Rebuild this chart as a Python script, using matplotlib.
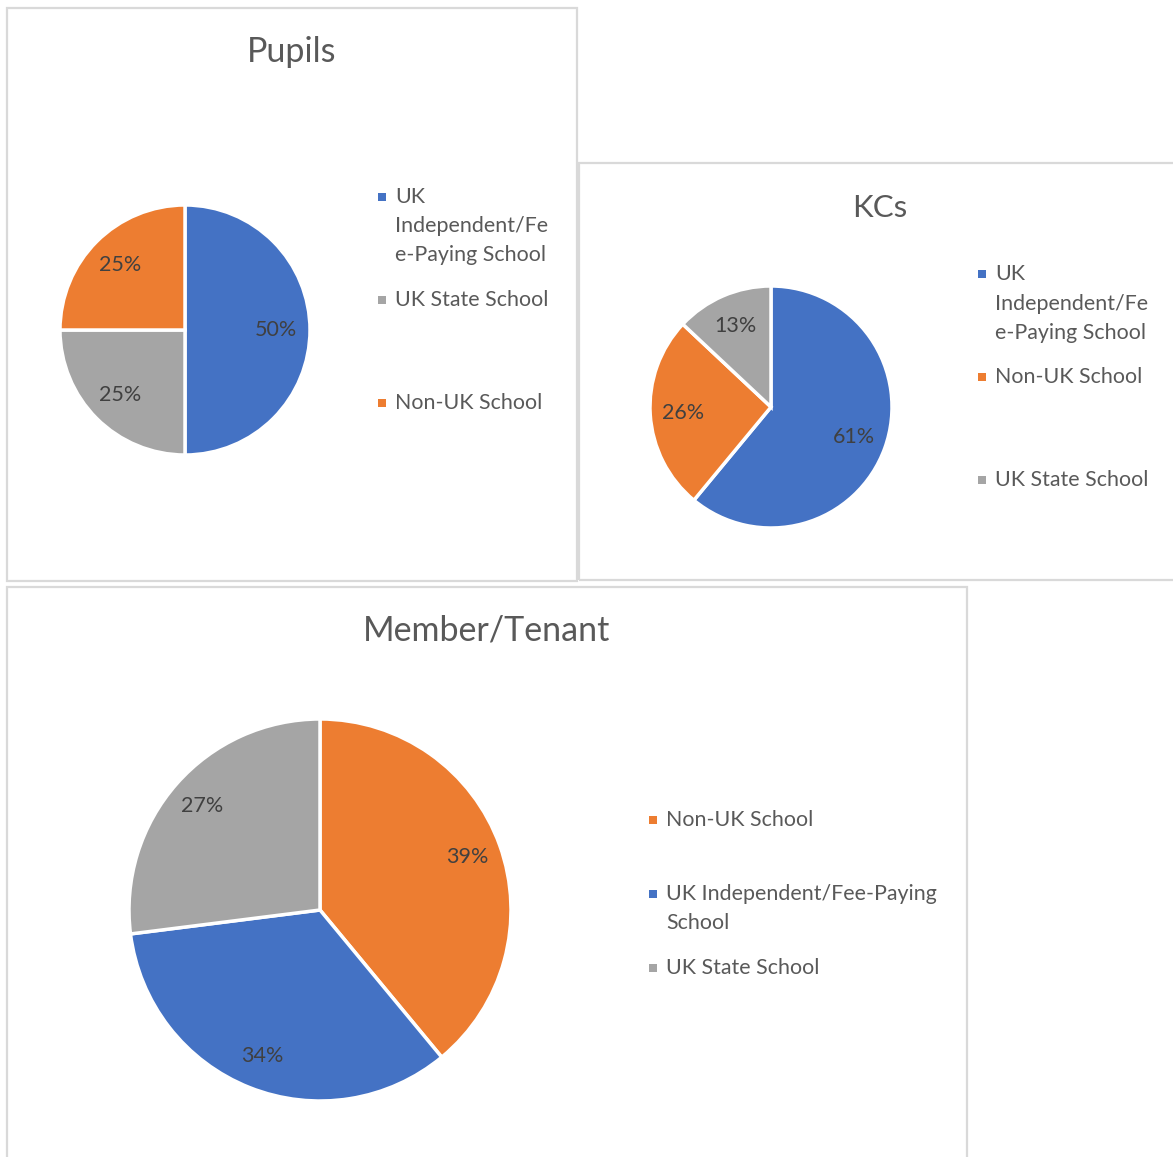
import matplotlib.pyplot as plt
from matplotlib.patches import Rectangle

# categories and colours (Excel office palette)
independent = "UK Independent/Fee-Paying School"
state = "UK State School"
non_uk = "Non-UK School"
colours = {independent: "#4472C4", state: "#A5A5A5", non_uk: "#ED7D31"}

# chart data (percent)
pupils_cats = [independent, state, non_uk]
pupils_vals = [50, 25, 25]

kcs_cats = [independent, non_uk, state]
kcs_vals = [61, 26, 13]

member_cats = [non_uk, independent, state]
member_vals = [39, 34, 27]

# how each legend wraps the long label
pupils_wrap = {independent: ["UK", "Independent/Fe", "e-Paying School"]}
kcs_wrap = {independent: ["UK", "Independent/Fe", "e-Paying School"]}
member_wrap = {independent: ["UK Independent/Fee-Paying", "School"]}

W, H = 1173, 1157
plt.rcParams["font.family"] = ["Lato", "DejaVu Sans"]
txt = "#595959"

fig = plt.figure(figsize=(W / 100, H / 100), dpi=100)


def fx(x):
    return x / W


def fy(y):
    return 1 - y / H


def panel(x0, y0, x1, y1):
    fig.add_artist(Rectangle((fx(x0), fy(y1)), fx(x1 - x0), (y1 - y0) / H,
                             transform=fig.transFigure, fill=False,
                             edgecolor="#D9D9D9", linewidth=1.6))


def pie(cx, cy, r, vals, cats, pctdist, fs):
    ax = fig.add_axes([fx(cx - r), fy(cy + r), 2 * r / W, 2 * r / H])
    ax.pie(vals, colors=[colours[c] for c in cats], startangle=90,
           counterclock=False, autopct="%1.0f%%", pctdistance=pctdist,
           wedgeprops=dict(edgecolor="white", linewidth=2.5),
           textprops=dict(color="#404040", fontsize=fs))
    ax.set_xlim(-1, 1)
    ax.set_ylim(-1, 1)
    ax.set_aspect("equal")


def legend(x, ys, cats, wrap, fs, step):
    for y, c in zip(ys, cats):
        lines = wrap.get(c, [c])
        fig.add_artist(Rectangle((fx(x), fy(y + 4)), 8 / W, 8 / H,
                                 transform=fig.transFigure,
                                 facecolor=colours[c], edgecolor="none"))
        for i, line in enumerate(lines):
            fig.text(fx(x + 17), fy(y + i * step), line, fontsize=fs,
                     color=txt, ha="left", va="center")


# panel borders
panel(7, 8, 577, 581)
panel(579, 163, 1180, 580)
panel(7, 587, 967, 1170)

# Pupils
fig.text(fx(292), fy(52), "Pupils", fontsize=24.5, color=txt, ha="center", va="center")
pie(185, 330, 125, pupils_vals, pupils_cats, 0.73, 15.5)
legend(378, [197, 300, 403], pupils_cats, pupils_wrap, 15.4, 29)

# KCs
fig.text(fx(880), fy(208), "KCs", fontsize=22.5, color=txt, ha="center", va="center")
pie(771, 407, 121, kcs_vals, kcs_cats, 0.73, 15.5)
legend(978, [274, 377, 480], kcs_cats, kcs_wrap, 15.4, 29.5)

# Member/Tenant
fig.text(fx(487), fy(630), "Member/Tenant", fontsize=24.5, color=txt, ha="center", va="center")
pie(320, 910, 191, member_vals, member_cats, 0.82, 15.5)
legend(649, [820, 894, 968], member_cats, member_wrap, 15.4, 29)

fig.savefig("out.png", dpi=100, facecolor="white")
